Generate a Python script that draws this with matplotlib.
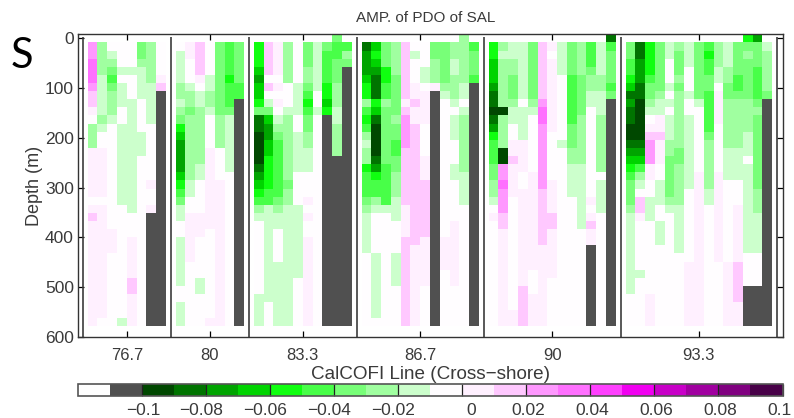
import numpy as np
import matplotlib
matplotlib.use('Agg')
import matplotlib.pyplot as plt
from matplotlib.colors import ListedColormap, BoundaryNorm
from matplotlib.cm import ScalarMappable
from matplotlib.transforms import ScaledTranslation

plt.rcParams['font.family'] = ['Liberation Sans', 'DejaVu Sans']

# Amplitude per bin, hundredths of salinity units (middle of the colour bin)
BIN_VALUES = {
    '_': np.nan, '#': -10.5,
    'j': -9.5, 'i': -8.5, 'h': -7.5, 'g': -6.5, 'f': -5.5,
    'e': -4.5, 'd': -3.5, 'c': -2.5, 'b': -1.5, 'a': -0.5,
    'p': 0.5, 'q': 1.5, 'r': 2.5, 's': 3.5,
}

# Each column is read top to bottom: bin letter + last row index of that run
line_767 = [
    '_0 r2 s5 r6 q8 p9 a10 c13 p19 a20 p21 q22 p35',
    '_0 c4 b9 c10 b11 a13 p19 a20 p34 a35',
    '_0 a1 b2 c3 d4 e5 d6 c9 b10 a23 p26 a35',
    '_0 a3 b4 a5 b8 a10 b20 a34 b35',
    '_0 a3 b4 a7 b21 a24 p29 q31 p35',
    '_0 d2 c3 b7 a11 b14 a35',
    '_0 c5 b10 a17 p18 a20 p21 #35',
    '_0 a4 p5 q6 #35',
]
line_80 = [
    '_0 a1 b5 c7 b8 c9 d10 f11 g12 h16 g17 f18 e19 d20 b22 a24 b30 a32 b35',
    '_0 p2 a5 b6 c8 d9 c17 b19 a21 p27 a35',
    '_0 q4 p5 a6 b8 c15 b17 a21 p24 a29 b31 a35',
    '_0 a4 b6 c8 b9 a13 p23 a34 p35',
    '_0 d9 c13 a17 p35',
    '_0 e4 f5 e8 d9 b16 a35',
    '_0 d5 e7 #35',
]
line_833 = [
    '_0 f3 g4 h5 g7 f8 d9 i11 j15 i16 h17 g18 f19 e20 c21 b22 a31 b35',
    '_0 q4 a5 q6 a7 b8 d9 g10 h12 g14 f18 e20 b32 a35',
    '_0 p4 a5 p6 a7 p8 a9 b10 c11 d12 e19 d20 c21 b23 a27 b35',
    '_0 c5 a8 b9 c17 d18 c20 b35',
    '_0 a5 b9 a11 b16 a20 b29 a35',
    '_0 d3 c5 d6 e7 f8 e9 d11 c13 b16 a19 p20 a21 p22 a24 p35',
    '_0 b6 a8 b9 a35',
    '_0 d1 e5 f7 g8 f9 #35',
    'd0 e2 d5 c8 b10 c14 #35',
    '_0 e1 c2 d3 #35',
]
line_867 = [
    '_0 i1 h4 g5 f7 c8 e9 f10 e11 c12 b13 c15 f16 e19 d20 c21 b26 a35',
    '_0 g1 f2 g3 h4 i7 f8 g9 i10 j14 i15 h16 f17 e19 c20 b21 a26 b34 a35',
    '_0 d3 f5 e7 c8 d15 e20 b21 a35',
    '_0 c4 d9 c10 d12 e14 d16 c19 b22 a26 b30 a35',
    '_0 q7 p8 q9 r13 q20 p24 q35',
    '_0 a1 b2 a5 p7 q8 p10 q25 p35',
    '_0 a3 b5 a6 p10 a14 p17 q24 p30 a35',
    '_0 d2 c5 p6 #35',
    '_0 d5 c6 b7 a24 p28 a35',
    '_0 c2 b4 c7 b8 a9 b12 a15 b17 a22 p30 a35',
    'c0 c5 b7 a8 b9 c16 b20 a35',
    '_0 e1 d4 e5 #35',
]
line_90 = [
    '_0 f2 g5 h6 i8 j9 i10 h11 f12 e15 d17 c19 b20 a21 p22 a35',
    '_0 c1 b2 c8 j9 c13 j15 r17 s18 r21 q23 p35',
    '_0 b2 c4 d7 c8 b10 a12 p14 q15 p19 a33 p35',
    '_0 b7 a8 b12 p16 a18 p30 q35',
    '_0 d7 c8 b9 a16 p28 a31 p35',
    '_0 q7 r8 s10 r18 q25 p35',
    '_0 p1 a2 p11 a17 p21 q23 p29 a35',
    '_0 b4 a12 b13 a35',
    '_0 d4 e10 d13 c15 b19 a35',
    '_0 c4 d9 c15 b23 a35',
    '_0 e3 d4 c6 b8 a19 p20 a21 p22 q23 p25 #35',
    '_0 b4 c6 b9 c16 a17 b21 a35',
    'i0 e1 d5 e6 d7 #35',
]
line_933 = [
    '_0 d2 e4 f5 g6 i7 h8 i10 j12 i13 h14 g15 f16 e17 d20 c21 b31 a35',
    '_0 i2 h5 i7 j12 i13 h14 g15 e16 c17 b18 a19 q21 p22 a28 b29 a35',
    '_0 f4 e5 d7 c8 b9 a10 p11 q12 r15 p17 a19 b22 a31 p35',
    '_0 d6 c7 b9 p11 q12 p15 a17 b20 a22 b25 a35',
    '_0 b2 a5 b6 a7 b8 a9 b12 c14 d19 c20 b21 a35',
    '_0 c1 d4 c5 d6 c13 d15 c20 b26 a35',
    '_0 b3 a6 b7 a9 b18 a27 p35',
    '_0 d7 b8 a16 p35',
    '_0 e1 f2 e4 d6 e11 d12 c18 b20 a35',
    '_0 c3 b5 a6 p10 a16 p27 a35',
    '_0 b3 c5 d7 c13 b17 a27 p35',
    '_0 d4 e6 d7 c13 b17 a20 p27 q32 p35',
    'f0 d1 c2 d7 c11 b14 a15 b26 a30 #35',
    'h0 d3 e7 d8 c9 d18 c21 b26 a30 #35',
    '_0 b1 c6 d7 #35',
]

sections = [line_767, line_80, line_833, line_867, line_90, line_933]
section_labels = ['76.7', '80', '83.3', '86.7', '90', '93.3']

cbar_colors = ['#ffffff', '#505050', '#004800', '#007400', '#00a400', '#00d400',
               '#10ff10', '#48ff48', '#78ff78', '#a0ffa0', '#ccffcc', '#fffdff',
               '#fff0ff', '#ffc8ff', '#ff98ff', '#ff70ff', '#ff40ff', '#f000f0',
               '#c800c8', '#a000a0', '#800080', '#480048']
cbar_ticks = [-0.1, -0.08, -0.06, -0.04, -0.02, 0, 0.02, 0.04, 0.06, 0.08, 0.1]
cbar_labels = ['\u22120.1', '\u22120.08', '\u22120.06', '\u22120.04', '\u22120.02',
               '0', '0.02', '0.04', '0.06', '0.08', '0.1']
# the source labels sit a little off their ticks, in pixels
cbar_label_shift = [2, -5, -5, -5, -5, 9, 2, 2, 2, 2, -3]

NROWS = 36
DEPTH_STEP = 16.3
TEXT_COLOR = '#3a3a3a'


def expand_column(runs):
    """Turn 'x3 y7' run notation into one value per depth row."""
    col = np.full(NROWS, np.nan)
    start = 0
    for run in runs.split():
        end = int(run[1:])
        col[start:end + 1] = BIN_VALUES[run[0]] / 100.0
        start = end + 1
    return col


# one blank column between the lines
columns = []
separators = [-0.5]
centers = []
for sec in sections:
    first = len(columns)
    columns.extend(expand_column(c) for c in sec)
    centers.append((first + len(columns)) / 2.0)
    separators.append(len(columns) + 0.5)
    columns.append(np.full(NROWS, np.nan))
grid = np.array(columns[:-1]).T

W, H = 794, 418
fig = plt.figure(figsize=(W / 100, H / 100), dpi=100)
ax = fig.add_axes([78 / W, 1 - 337 / H, 705 / W, 303 / H])

cmap = ListedColormap(cbar_colors)
bounds = np.round(np.arange(-0.12, 0.1001, 0.01), 2)
norm = BoundaryNorm(bounds, cmap.N)

x_edges = np.arange(grid.shape[1] + 1)
y_edges = -8 + DEPTH_STEP * np.arange(NROWS + 1)
ax.pcolormesh(x_edges, y_edges, np.ma.masked_invalid(grid), cmap=cmap, norm=norm)

ax.vlines(separators, -2, 600, color='#3c3c3c', lw=1.2)
ax.set_xlim(-0.99, 71.1)
ax.set_ylim(600, -8.7)

ax.set_xticks(centers)
ax.set_xticklabels(section_labels, fontsize=12, color=TEXT_COLOR)
ax.set_yticks([0, 100, 200, 300, 400, 500, 600])
ax.tick_params(axis='both', direction='in', top=True, right=True, length=4.5,
               width=0.9, labelsize=12.5, labelcolor=TEXT_COLOR)
ax.tick_params(axis='x', pad=8, labelsize=12)
ax.tick_params(axis='y', pad=3)
for s in ax.spines.values():
    s.set_linewidth(1.0)
    s.set_color('#333333')

ax.set_ylabel('Depth (m)', fontsize=13, labelpad=1, color=TEXT_COLOR)
ax.set_xlabel('CalCOFI Line (Cross\u2212shore)', fontsize=13.6, labelpad=2, color=TEXT_COLOR)
fig.text(426 / W, 1 - 18 / H, 'AMP. of PDO of SAL', fontsize=11, ha='center', va='center',
         color=TEXT_COLOR)
fig.text(21.5 / W, 1 - 56 / H, 'S', fontsize=30, ha='center', va='center',
         family=['Lato', 'DejaVu Sans'], color='black')

cax = fig.add_axes([77.5 / W, 1 - 396 / H, 705 / W, 12 / H])
cb = fig.colorbar(ScalarMappable(norm=norm, cmap=cmap), cax=cax, orientation='horizontal',
                  spacing='proportional', ticks=cbar_ticks)
cb.ax.set_xticklabels(cbar_labels, fontsize=12.5, color=TEXT_COLOR)
cb.ax.tick_params(direction='in', length=8.6, width=0.9, color='#222222', pad=5)
cb.ax.minorticks_off()
cb.outline.set_edgecolor('#555555')
cb.outline.set_linewidth(1.2)
for label, shift in zip(cb.ax.get_xticklabels(), cbar_label_shift):
    label.set_transform(label.get_transform() + ScaledTranslation(shift / 100, 0, fig.dpi_scale_trans))

fig.savefig('out.png', dpi=100)
plt.close(fig)
